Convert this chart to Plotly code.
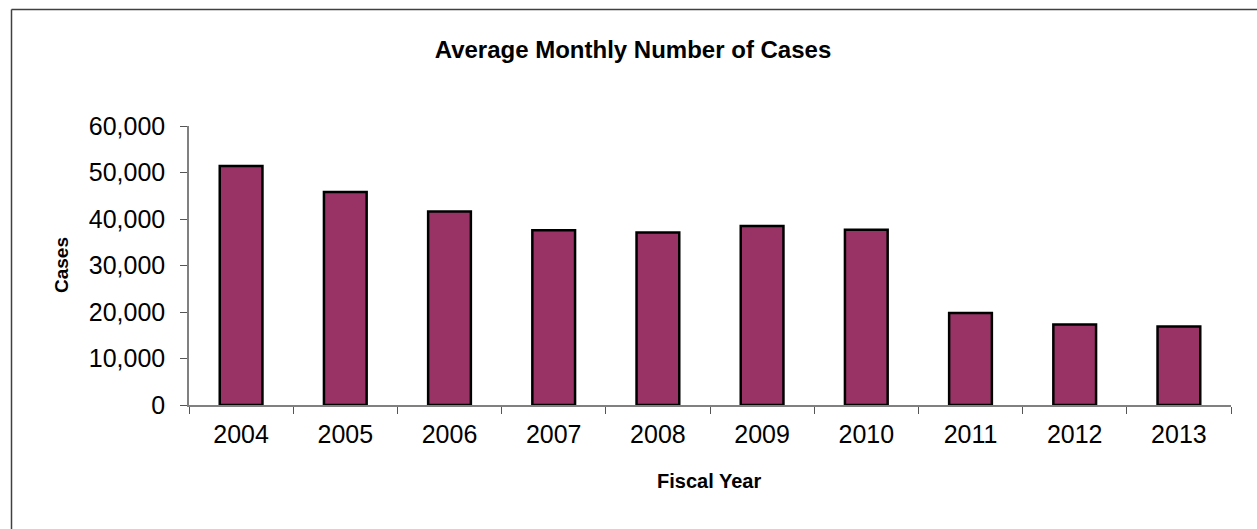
import plotly.graph_objects as go

years = ["2004", "2005", "2006", "2007", "2008", "2009", "2010", "2011", "2012", "2013"]
cases = [51400, 45800, 41600, 37600, 37100, 38500, 37700, 19800, 17300, 16900]
y_ticks = [0, 10000, 20000, 30000, 40000, 50000, 60000]

W, H = 1257, 529
L, R, T, B = 189, 26, 126, 124
pw = W - L - R
ph = H - T - B

def px_x(x):
    return (x - L) / pw

def px_y(y):
    return (H - B - y) / ph

fig = go.Figure(
    go.Bar(
        x=years,
        y=cases,
        marker=dict(color="#993366", line=dict(color="#000000", width=2.5)),
    )
)

font_family = "Liberation Sans, Arial, sans-serif"
frame_line = dict(color="#404040", width=1.5)

fig.update_layout(
    width=W,
    height=H,
    margin=dict(l=L, r=R, t=T, b=B, autoexpand=False),
    paper_bgcolor="white",
    plot_bgcolor="white",
    bargap=0.59,
    showlegend=False,
    font=dict(family=font_family, color="#000000"),
    title=dict(
        text="<b>Average Monthly Number of Cases</b>",
        x=633 / W,
        xanchor="center",
        xref="container",
        y=1 - 50 / H,
        yanchor="middle",
        yref="container",
        font=dict(size=24, family=font_family, color="#000000"),
    ),
    xaxis=dict(
        type="category",
        tickson="boundaries",
        ticks="outside",
        ticklen=7,
        tickcolor="#555555",
        tickwidth=1,
        showline=True,
        linecolor="#808080",
        linewidth=1.5,
        showgrid=False,
        tickfont=dict(size=25, family=font_family, color="#000000"),
        ticklabelstandoff=6,
    ),
    yaxis=dict(
        range=[0, 60000],
        tickvals=y_ticks,
        tickformat=",",
        ticks="outside",
        ticklen=7,
        tickcolor="#555555",
        tickwidth=1,
        showline=True,
        linecolor="#808080",
        linewidth=1.5,
        showgrid=False,
        zeroline=False,
        tickfont=dict(size=25, family=font_family, color="#000000"),
        ticklabelstandoff=10,
    ),
    annotations=[
        dict(
            text="<b>Cases</b>",
            xref="paper",
            yref="paper",
            x=px_x(61),
            y=px_y(265),
            xanchor="center",
            yanchor="middle",
            textangle=-90,
            showarrow=False,
            font=dict(size=19, family=font_family, color="#000000"),
        ),
        dict(
            text="<b>Fiscal Year</b>",
            xref="paper",
            yref="paper",
            x=px_x(709),
            y=px_y(481),
            xanchor="center",
            yanchor="middle",
            showarrow=False,
            font=dict(size=20, family=font_family, color="#000000"),
        ),
    ],
    shapes=[
        dict(
            type="line",
            xref="paper",
            yref="paper",
            x0=px_x(11.5),
            x1=px_x(1300),
            y0=px_y(9.5),
            y1=px_y(9.5),
            line=frame_line,
            layer="below",
        ),
        dict(
            type="line",
            xref="paper",
            yref="paper",
            x0=px_x(11.5),
            x1=px_x(11.5),
            y0=px_y(9.5),
            y1=px_y(600),
            line=frame_line,
            layer="below",
        ),
    ],
)

fig.write_html("out.html")
